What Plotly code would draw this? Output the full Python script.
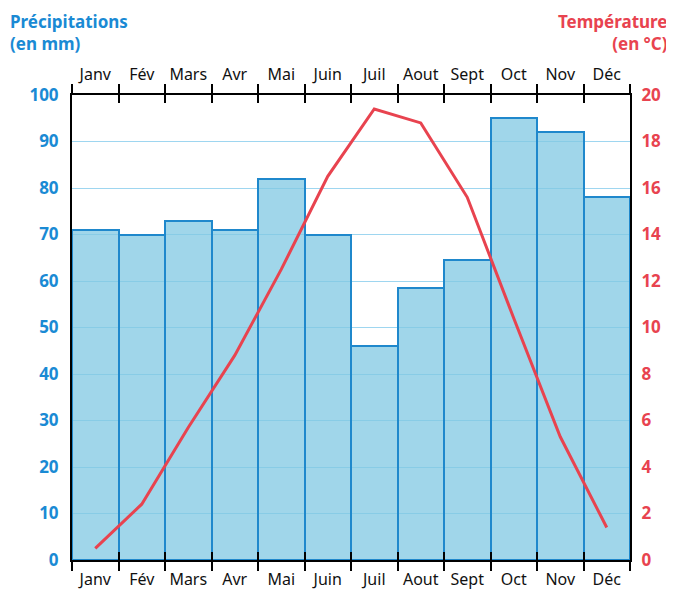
import plotly.graph_objects as go

months = ["Janv", "Fév", "Mars", "Avr", "Mai", "Juin", "Juil", "Aout", "Sept", "Oct", "Nov", "Déc"]
precip = [71, 70, 73, 71, 82, 70, 46, 58.5, 64.5, 95, 92, 78]
temp = [0.5, 2.4, 5.7, 8.8, 12.5, 16.5, 19.4, 18.8, 15.6, 10.4, 5.3, 1.4]
precip_ticks = list(range(0, 101, 10))
temp_ticks = list(range(0, 21, 2))

BLUE = "#1a8ad4"
RED = "#e8434f"
FONT = "Noto Sans"

fig = go.Figure()
fig.add_trace(go.Bar(
    x=months, y=precip, xaxis="x", yaxis="y",
    marker=dict(color="rgba(128,200,227,0.75)", line=dict(color="#1f88cc", width=2)),
    showlegend=False, hoverinfo="skip",
))
fig.add_trace(go.Scatter(
    x=months, y=temp, xaxis="x2", yaxis="y2", mode="lines",
    line=dict(color=RED, width=3), showlegend=False, hoverinfo="skip",
))

month_font = dict(family=FONT, size=16, color="#111111")
fig.update_layout(
    width=666, height=586,
    margin=dict(l=64, r=44, t=87, b=34),
    paper_bgcolor="white", plot_bgcolor="white",
    bargap=0,
    xaxis=dict(type="category", categoryorder="array", categoryarray=months,
               range=[-0.5, 11.5], tickson="boundaries", ticks="outside", ticklen=9,
               tickwidth=2, tickcolor="black", mirror="ticks", showline=True,
               linecolor="black", linewidth=2, showgrid=False, tickfont=month_font,
               tickangle=0, automargin=False, ticklabelstandoff=4, fixedrange=True),
    xaxis2=dict(type="category", categoryorder="array", categoryarray=months,
                range=[-0.5, 11.5], overlaying="x", side="top", tickson="boundaries",
                ticks="inside", ticklen=8, tickwidth=2, tickcolor="black", mirror="ticks",
                showline=True, linecolor="black", linewidth=2, showgrid=False,
                tickfont=month_font, tickangle=0, automargin=False, ticklabelstandoff=7,
                fixedrange=True),
    yaxis=dict(range=[0, 100], tickvals=precip_ticks, showgrid=True,
               gridcolor="#9ed6f0", gridwidth=1, zeroline=False, showline=True,
               linecolor="black", linewidth=2, ticks="", ticklabelstandoff=8,
               automargin=False,
               tickfont=dict(family=FONT, size=17, color=BLUE, weight="bold")),
    yaxis2=dict(range=[0, 20], tickvals=temp_ticks, overlaying="y", side="right",
                showgrid=False, zeroline=False, showline=True, linecolor="black",
                linewidth=2, ticks="", ticklabelstandoff=6, automargin=False,
                tickfont=dict(family=FONT, size=17, color=RED, weight="bold")),
    annotations=[
        dict(text="<b>Précipitations<br>(en mm)</b>", xref="paper", yref="paper",
             x=-64/558, y=1 + 87/465, xanchor="left", yanchor="top", align="left",
             showarrow=False, font=dict(family=FONT, size=17, color=BLUE)),
        dict(text="<b>Température<br>(en °C)</b>", xref="paper", yref="paper",
             x=1 + 40/558, y=1 + 87/465, xanchor="right", yanchor="top", align="right",
             showarrow=False, font=dict(family=FONT, size=17, color=RED)),
    ],
)

fig.write_html("out.html")
